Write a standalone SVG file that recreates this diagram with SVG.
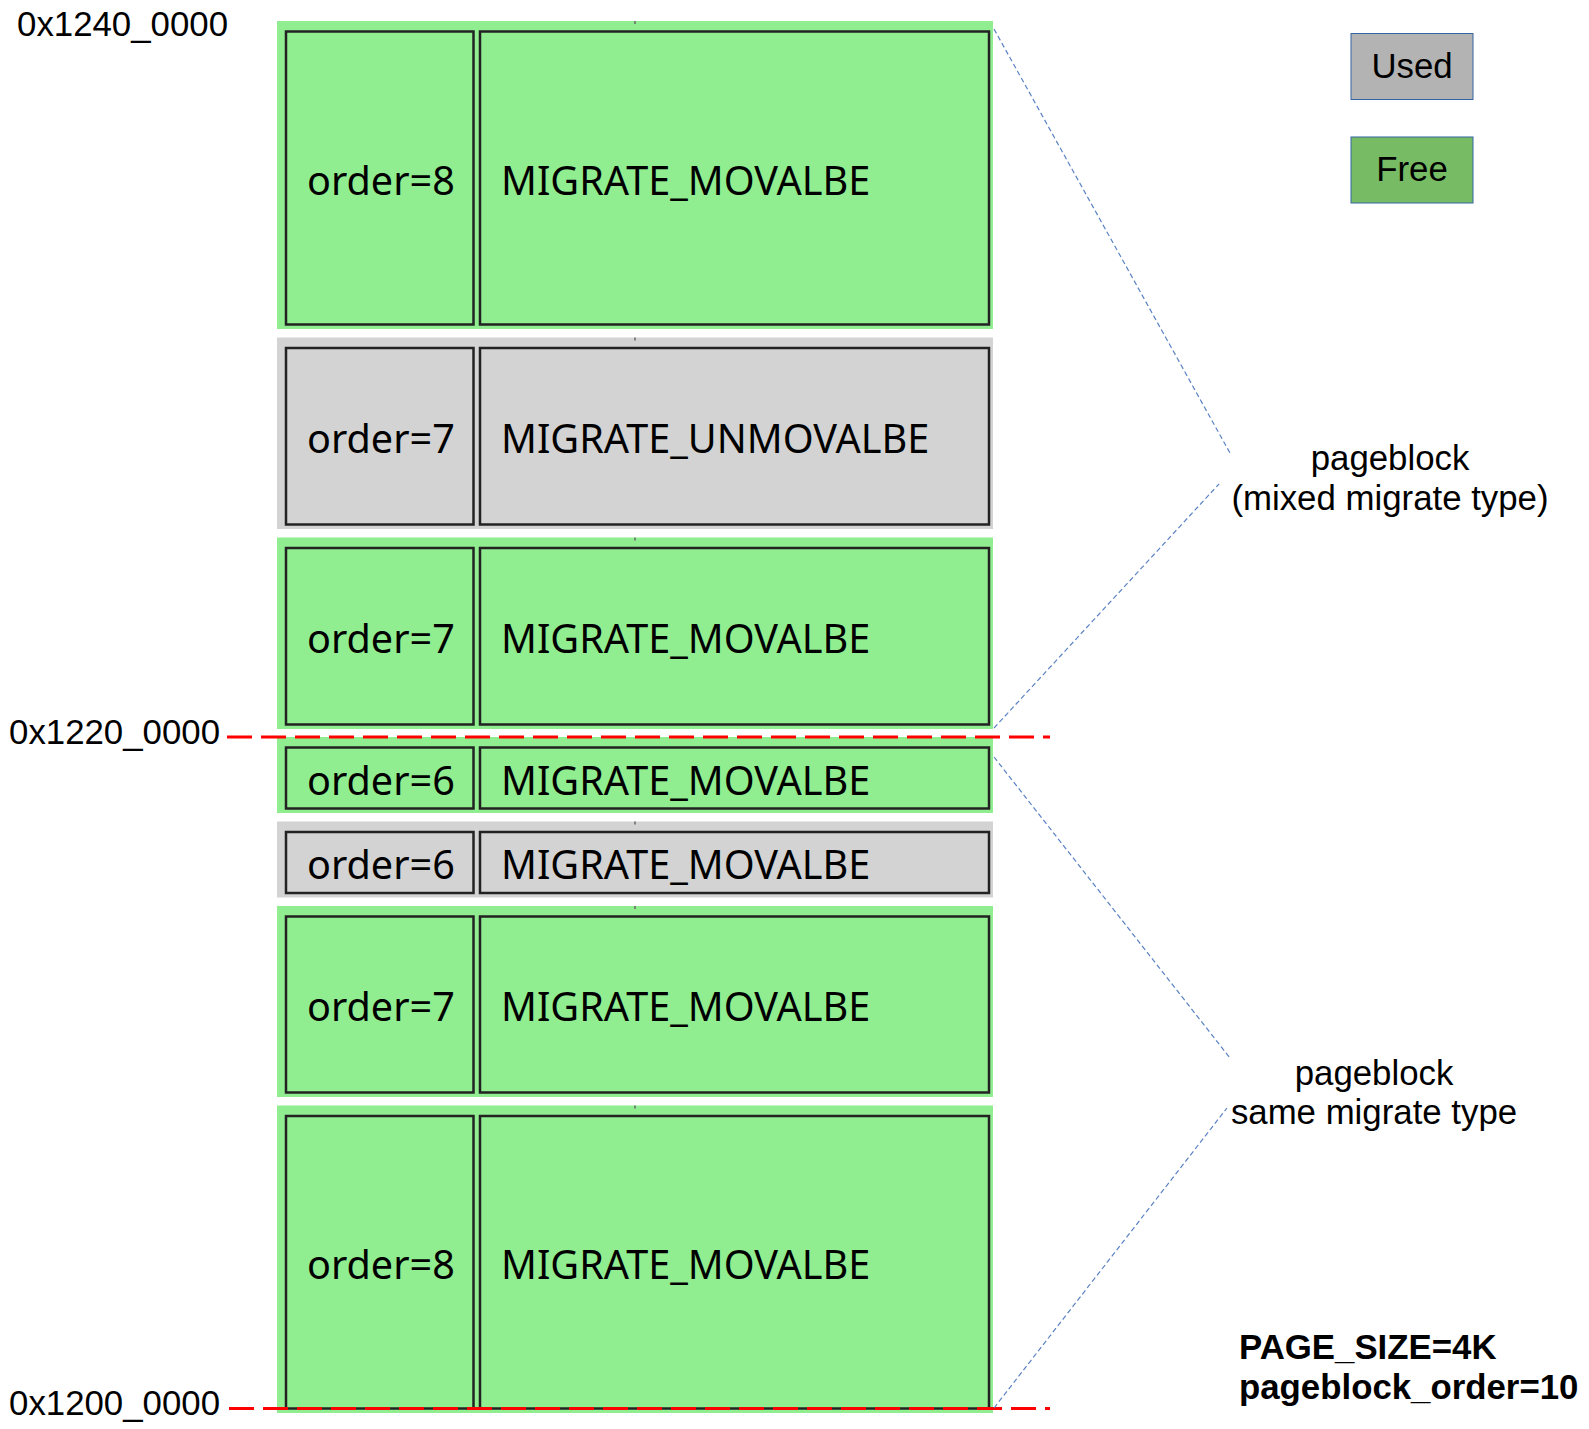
<svg xmlns="http://www.w3.org/2000/svg" width="1589" height="1429" viewBox="0 0 1589 1429">
<style>
.free{fill:#90ee90}
.used{fill:#d3d3d3}
.cell{fill:none;stroke:#222;stroke-width:2.5}
.bt{font-family:"Noto Sans","Open Sans",sans-serif;font-size:39.6px;fill:#000}
.lbl{font-family:"Liberation Sans",Arial,sans-serif;font-size:34.8px;fill:#000}
.bold{font-family:"Liberation Sans",Arial,sans-serif;font-size:34.8px;font-weight:bold;fill:#000}
.tick{stroke:#666;stroke-width:1.5}
.red{stroke:#ff0000;stroke-width:3;stroke-dasharray:25 9;fill:none}
.blue{stroke:#5a82c4;stroke-width:1.2;stroke-dasharray:5 3;fill:none}
</style>
<rect width="1589" height="1429" fill="#fff"/>

<g id="block1">
<rect class="free" x="277" y="21" width="716" height="308"/>
<rect class="cell" x="286" y="31.5" width="187.5" height="293"/>
<rect class="cell" x="480" y="31.5" width="509" height="293"/>
<line class="tick" x1="635" y1="21" x2="635" y2="24"/>
<text class="bt" x="307" y="194.5">order=8</text>
<text class="bt" x="501" y="194.5">MIGRATE_MOVALBE</text>
</g>

<g id="block2">
<rect class="used" x="277" y="337.5" width="716" height="191.5"/>
<rect class="cell" x="286" y="348" width="187.5" height="176.5"/>
<rect class="cell" x="480" y="348" width="509" height="176.5"/>
<line class="tick" x1="635" y1="337.5" x2="635" y2="340.5"/>
<text class="bt" x="307" y="452.5">order=7</text>
<text class="bt" x="501" y="452.5">MIGRATE_UNMOVALBE</text>
</g>

<g id="block3">
<rect class="free" x="277" y="537.5" width="716" height="191.5"/>
<rect class="cell" x="286" y="548" width="187.5" height="176.5"/>
<rect class="cell" x="480" y="548" width="509" height="176.5"/>
<line class="tick" x1="635" y1="537.5" x2="635" y2="540.5"/>
<text class="bt" x="307" y="652.5">order=7</text>
<text class="bt" x="501" y="652.5">MIGRATE_MOVALBE</text>
</g>

<g id="block4">
<rect class="free" x="277" y="737" width="716" height="76"/>
<rect class="cell" x="286" y="747.5" width="187.5" height="61"/>
<rect class="cell" x="480" y="747.5" width="509" height="61"/>
<text class="bt" x="307" y="794.5">order=6</text>
<text class="bt" x="501" y="794.5">MIGRATE_MOVALBE</text>
</g>

<g id="block5">
<rect class="used" x="277" y="821.5" width="716" height="76"/>
<rect class="cell" x="286" y="832" width="187.5" height="61"/>
<rect class="cell" x="480" y="832" width="509" height="61"/>
<line class="tick" x1="635" y1="821.5" x2="635" y2="824.5"/>
<text class="bt" x="307" y="879">order=6</text>
<text class="bt" x="501" y="879">MIGRATE_MOVALBE</text>
</g>

<g id="block6">
<rect class="free" x="277" y="906" width="716" height="191"/>
<rect class="cell" x="286" y="916.5" width="187.5" height="176"/>
<rect class="cell" x="480" y="916.5" width="509" height="176"/>
<line class="tick" x1="635" y1="906" x2="635" y2="909"/>
<text class="bt" x="307" y="1021">order=7</text>
<text class="bt" x="501" y="1021">MIGRATE_MOVALBE</text>
</g>

<g id="block7">
<rect class="free" x="277" y="1105.5" width="716" height="307.5"/>
<rect class="cell" x="286" y="1116" width="187.5" height="292.5"/>
<rect class="cell" x="480" y="1116" width="509" height="292.5"/>
<line class="tick" x1="635" y1="1105.5" x2="635" y2="1108.5"/>
<text class="bt" x="307" y="1278.5">order=8</text>
<text class="bt" x="501" y="1278.5">MIGRATE_MOVALBE</text>
</g>

<g id="addr-labels">
<text class="lbl" x="228" y="36" text-anchor="end">0x1240_0000</text>
<text class="lbl" x="220" y="743.5" text-anchor="end">0x1220_0000</text>
<text class="lbl" x="220" y="1415" text-anchor="end">0x1200_0000</text>
</g>

<g id="legend-used">
<rect x="1351" y="33.5" width="122" height="66" fill="#b3b3b3" stroke="#3465a4" stroke-width="1"/>
<text class="lbl" x="1412" y="78" text-anchor="middle">Used</text>
</g>
<g id="legend-free">
<rect x="1351" y="137" width="122" height="66" fill="#77bc65" stroke="#3465a4" stroke-width="1"/>
<text class="lbl" x="1412" y="181" text-anchor="middle">Free</text>
</g>

<g id="label-mixed">
<text class="lbl" x="1390" y="470" text-anchor="middle">pageblock</text>
<text class="lbl" x="1390" y="510" text-anchor="middle">(mixed migrate type)</text>
</g>
<g id="label-same">
<text class="lbl" x="1374" y="1084.5" text-anchor="middle">pageblock</text>
<text class="lbl" x="1374" y="1124" text-anchor="middle">same migrate type</text>
</g>
<g id="note">
<text class="bold" x="1239" y="1359">PAGE_SIZE=4K</text>
<text class="bold" x="1239" y="1398.5">pageblock_order=10</text>
</g>

<g id="connectors">
<line class="red" x1="227" y1="737" x2="1050" y2="737"/>
<line class="red" x1="229" y1="1408.5" x2="1050" y2="1408.5"/>
<line class="blue" x1="994" y1="29" x2="1230" y2="453"/>
<line class="blue" x1="994" y1="728" x2="1219" y2="484"/>
<line class="blue" x1="994" y1="757" x2="1230" y2="1058"/>
<line class="blue" x1="994" y1="1408" x2="1227" y2="1108"/>
</g>
</svg>
